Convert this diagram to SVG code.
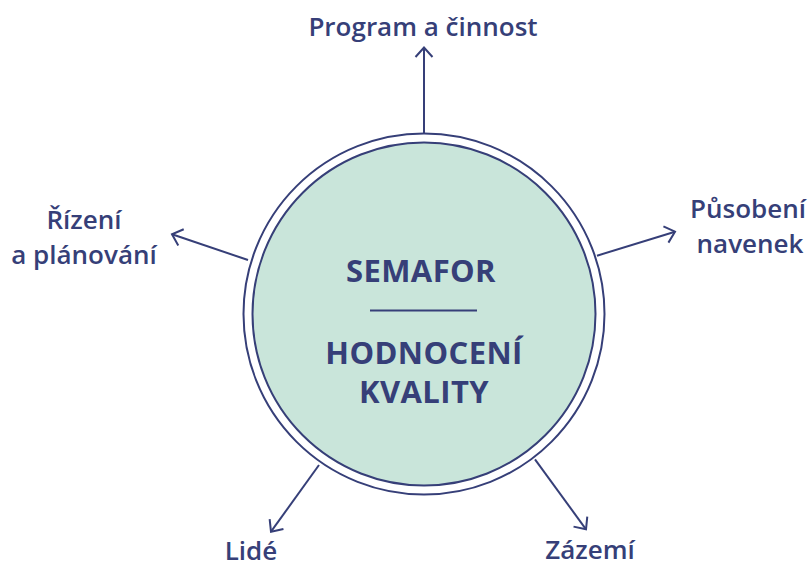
<svg xmlns="http://www.w3.org/2000/svg" width="812" height="567" viewBox="0 0 812 567">
<style>
.lbl{font-family:"Open Sans","Noto Sans",sans-serif;font-size:26px;font-weight:600;fill:#363f78;text-anchor:middle}
.ttl{font-family:"Open Sans","Noto Sans",sans-serif;font-size:31px;font-weight:700;letter-spacing:0.4px;fill:#363f78;text-anchor:middle}
.ln{stroke:#363f78;stroke-width:2;fill:none}
</style>
<defs>
<marker id="arr" markerUnits="userSpaceOnUse" markerWidth="24" markerHeight="24" refX="0" refY="0" viewBox="-12 -12 24 24" orient="auto" overflow="visible">
<path d="M-9.5,-8.5 L0,0 L-9.5,8.5" fill="none" stroke="#363f78" stroke-width="2"/>
</marker>
</defs>
<rect width="812" height="567" fill="#ffffff"/>
<g id="center">
<circle cx="424" cy="314" r="180.5" fill="#ffffff" stroke="#363f78" stroke-width="2"/>
<circle cx="424" cy="314" r="171.5" fill="#c9e5da" stroke="#363f78" stroke-width="2"/>
<text class="ttl" x="421" y="282">SEMAFOR</text>
<line class="ln" x1="370" y1="310.5" x2="477" y2="310.5"/>
<text class="ttl" x="424" y="364">HODNOCENÍ</text>
<text class="ttl" x="424" y="403">KVALITY</text>
</g>
<g id="connectors">
<line class="ln" x1="424" y1="133.5" x2="424" y2="47.5" marker-end="url(#arr)"/>
<line class="ln" x1="248" y1="260" x2="172" y2="234.3" marker-end="url(#arr)"/>
<line class="ln" x1="597" y1="255.7" x2="675" y2="231.7" marker-end="url(#arr)"/>
<line class="ln" x1="319" y1="465" x2="271" y2="531.7" marker-end="url(#arr)"/>
<line class="ln" x1="535" y1="459.3" x2="586" y2="529.3" marker-end="url(#arr)"/>
</g>
<g id="n-program"><text class="lbl" x="423" y="36">Program a činnost</text></g>
<g id="n-rizeni"><text class="lbl" x="84" y="229">Řízení</text><text class="lbl" x="84" y="264">a plánování</text></g>
<g id="n-pusobeni"><text class="lbl" x="748" y="218">Působení</text><text class="lbl" x="750" y="253">navenek</text></g>
<g id="n-lide"><text class="lbl" x="251" y="560">Lidé</text></g>
<g id="n-zazemi"><text class="lbl" x="590" y="559">Zázemí</text></g>
</svg>
